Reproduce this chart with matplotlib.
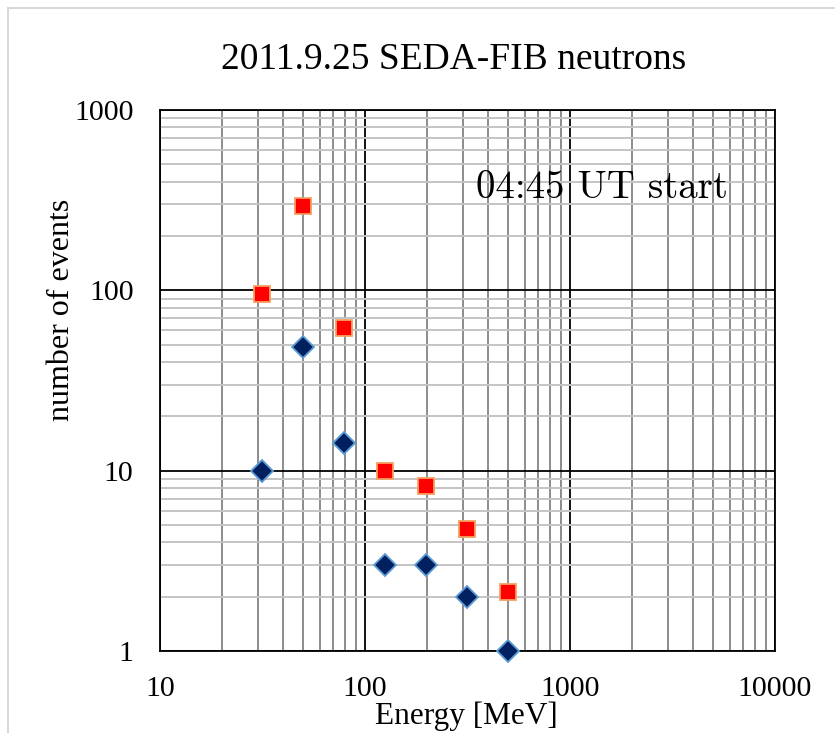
import matplotlib
matplotlib.use("Agg")
import matplotlib.pyplot as plt
from matplotlib.lines import Line2D
from matplotlib.ticker import LogLocator, FixedLocator, FixedFormatter, NullFormatter

plt.rcParams['font.family'] = ['Liberation Serif', 'DejaVu Serif']

title = "2011.9.25 SEDA-FIB neutrons"
note = "04:45 UT start"
energy = [31.5, 50, 79, 125, 199, 315, 500]
counts_red = [95, 294, 62, 10, 8.2, 4.75, 2.13]
counts_blue = [10, 48.5, 14.2, 3, 3, 2, 1]
xticks = [10, 100, 1000, 10000]
xticklabels = ["10", "100", "1000", "10000"]
yticks = [1, 10, 100, 1000]
yticklabels = ["1", "10", "100", "1000"]

W, H = 835, 733
fig = plt.figure(figsize=(W / 100, H / 100), dpi=100)
L, R, T, B = 160, 775, 110, 651
ax = fig.add_axes([L / W, 1 - B / H, (R - L) / W, (B - T) / H])

ax.set_xscale('log')
ax.set_yscale('log')
ax.set_xlim(10, 10000)
ax.set_ylim(1, 1000)

ax.xaxis.set_major_locator(FixedLocator(xticks))
ax.xaxis.set_major_formatter(FixedFormatter(xticklabels))
ax.yaxis.set_major_locator(FixedLocator(yticks))
ax.yaxis.set_major_formatter(FixedFormatter(yticklabels))
ax.xaxis.set_minor_locator(LogLocator(base=10, subs=range(2, 10)))
ax.yaxis.set_minor_locator(LogLocator(base=10, subs=range(2, 10)))
ax.xaxis.set_minor_formatter(NullFormatter())
ax.yaxis.set_minor_formatter(NullFormatter())

ax.grid(True, which='minor', axis='x', color='#8c8c8c', lw=1.4)
ax.grid(True, which='minor', axis='y', color='#c4c4c4', lw=1.4)
ax.grid(True, which='major', axis='both', color='black', lw=1.3)
ax.set_axisbelow(True)
for s in ax.spines.values():
    s.set_color('black')
    s.set_linewidth(1.3)

ax.tick_params(which='both', length=0)
ax.tick_params(axis='x', pad=18, labelsize=21.5)
ax.tick_params(axis='y', pad=19, labelsize=21.5)

ax.plot(energy, counts_red, linestyle='none', marker='s', markersize=12,
        markerfacecolor='#ff0000', markeredgecolor='#f4a060', markeredgewidth=1.3,
        clip_on=False, zorder=5)
ax.plot(energy, counts_blue, linestyle='none', marker='D', markersize=11,
        markerfacecolor='#002060', markeredgecolor='#5b9bd5', markeredgewidth=1.3,
        clip_on=False, zorder=5)

ax.set_xlabel("Energy [MeV]", fontsize=22.5, va='center')
ax.xaxis.set_label_coords((466 - L) / (R - L), -(716 - B) / (B - T))
ax.set_ylabel("number of events", fontsize=23, va='center')
ax.yaxis.set_label_coords((62 - L) / (R - L), (B - 310) / (B - T))

fig.text(454 / W, 1 - 60 / H, title, fontsize=27, ha='center', va='center')
ax.text((602 - L) / (R - L), (B - 188) / (B - T), note,
        transform=ax.transAxes, fontsize=28, ha='center', va='center',
        family=['cmr10', 'Liberation Serif'])

fig.add_artist(Line2D([8 / W, 8 / W], [0, 1 - 8 / H], transform=fig.transFigure,
                      color='#d9d9d9', lw=1.5))
fig.add_artist(Line2D([8 / W, 1], [1 - 8 / H, 1 - 8 / H], transform=fig.transFigure,
                      color='#d9d9d9', lw=1.5))

fig.savefig("out.png", dpi=100, facecolor='white')
